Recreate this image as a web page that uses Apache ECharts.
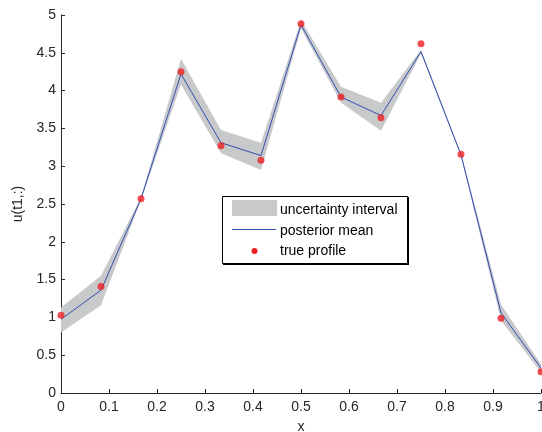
<!DOCTYPE html>
<html>
<head>
<meta charset="utf-8">
<script src="https://cdn.jsdelivr.net/npm/echarts@6/dist/echarts.min.js"></script>
<style>html,body{margin:0;padding:0;background:#fff;}#c{width:542px;height:432px;}</style>
</head>
<body>
<div id="c"></div>
<script>
var xs = [0, 1/12, 2/12, 3/12, 4/12, 5/12, 6/12, 7/12, 8/12, 9/12, 10/12, 11/12, 1];
var trueProfile = [1.03, 1.41, 2.57, 4.25, 3.27, 3.08, 4.885, 3.915, 3.64, 4.62, 3.157, 0.99, 0.28];
var posteriorMean = [0.975, 1.36, 2.57, 4.22, 3.31, 3.14, 4.87, 3.915, 3.67, 4.515, 3.15, 1.06, 0.33];
var upperBound = [1.13, 1.55, 2.59, 4.42, 3.48, 3.31, 4.93, 4.05, 3.84, 4.54, 3.17, 1.17, 0.38];
var lowerBound = [0.80, 1.16, 2.55, 4.08, 3.17, 2.95, 4.82, 3.84, 3.47, 4.49, 3.13, 0.96, 0.27];
var xTicks = ['0','0.1','0.2','0.3','0.4','0.5','0.6','0.7','0.8','0.9','1'];
var yTicks = ['0','0.5','1','1.5','2','2.5','3','3.5','4','4.5','5'];
var legendNames = ['uncertainty interval', 'posterior mean', 'true profile'];

var font = 'Liberation Sans, Arial, sans-serif';
var chart = echarts.init(document.getElementById('c'), null, {renderer: 'canvas'});
function pairs(ys) { return xs.map(function (x, i) { return [x, ys[i]]; }); }
var bandData = xs.map(function (x, i) { return [x, lowerBound[i], upperBound[i]]; });

var option = {
  animation: false,
  backgroundColor: '#fff',
  grid: {left: 61, top: 15, right: 1, bottom: 39, containLabel: false, outerBoundsMode: 'none'},
  xAxis: {
    type: 'value', min: 0, max: 1, interval: 0.1,
    name: 'x', nameLocation: 'middle', nameGap: 27,
    nameTextStyle: {color: '#262626', fontSize: 14, fontFamily: font},
    axisLine: {lineStyle: {color: '#262626', width: 1}},
    axisTick: {inside: true, length: 4, lineStyle: {color: '#262626'}},
    axisLabel: {margin: 7, color: '#262626', fontSize: 14, fontFamily: font,
      formatter: function (v) { return xTicks[Math.round(v * 10)]; }},
    splitLine: {show: false}
  },
  yAxis: {
    type: 'value', min: 0, max: 5, interval: 0.5,
    name: 'u(t1,:)', nameLocation: 'middle', nameGap: 34, nameRotate: 90,
    nameTextStyle: {color: '#262626', fontSize: 14, fontFamily: font},
    axisLine: {show: true, lineStyle: {color: '#262626', width: 1}},
    axisTick: {show: true, inside: true, length: 4, lineStyle: {color: '#262626'}},
    axisLabel: {margin: 5, color: '#262626', fontSize: 14, fontFamily: font,
      formatter: function (v) { return yTicks[Math.round(v * 2)]; }},
    splitLine: {show: false}
  },
  series: [
    {
      name: legendNames[0], type: 'custom', data: bandData, silent: true, z: 1,
      clip: true,
      encode: {x: 0, y: [1, 2]},
      renderItem: function (params, api) {
        if (params.dataIndex !== 0) return null;
        var pts = [];
        for (var i = 0; i < bandData.length; i++) pts.push(api.coord([bandData[i][0], bandData[i][2]]));
        for (var j = bandData.length - 1; j >= 0; j--) pts.push(api.coord([bandData[j][0], bandData[j][1]]));
        return {type: 'polygon', shape: {points: pts}, style: {fill: '#c8c9ca', stroke: null}};
      }
    },
    {
      name: legendNames[1], type: 'line', data: pairs(posteriorMean),
      symbol: 'none', lineStyle: {color: '#3050b0', width: 1}, z: 3
    },
    {
      name: legendNames[2], type: 'scatter', data: pairs(trueProfile),
      symbol: 'circle', symbolSize: 7, itemStyle: {color: '#ee2024'}, z: 4
    }
  ],
  graphic: [
    {type: 'rect', shape: {x: 222.5, y: 196.5, width: 185, height: 67},
      style: {fill: '#fff', stroke: '#000', lineWidth: 1}, z: 10},
    {type: 'line', shape: {x1: 408.5, y1: 197, x2: 408.5, y2: 264.5}, style: {stroke: '#000', lineWidth: 1}, z: 10},
    {type: 'line', shape: {x1: 223, y1: 264.5, x2: 409, y2: 264.5}, style: {stroke: '#000', lineWidth: 1}, z: 10},
    {type: 'rect', shape: {x: 232, y: 200, width: 45, height: 16}, style: {fill: '#c8c9ca'}, z: 11},
    {type: 'line', shape: {x1: 232, y1: 229.5, x2: 276, y2: 229.5}, style: {stroke: '#3050b0', lineWidth: 1}, z: 11},
    {type: 'circle', shape: {cx: 254.5, cy: 251, r: 3}, style: {fill: '#ee2024'}, z: 11},
    {type: 'text', x: 280, y: 210.5, style: {text: legendNames[0], fill: '#000', font: '14px ' + font, verticalAlign: 'middle'}, z: 11},
    {type: 'text', x: 280, y: 231.5, style: {text: legendNames[1], fill: '#000', font: '14px ' + font, verticalAlign: 'middle'}, z: 11},
    {type: 'text', x: 280, y: 251.5, style: {text: legendNames[2], fill: '#000', font: '14px ' + font, verticalAlign: 'middle'}, z: 11}
  ]
};
chart.setOption(option);
</script>
</body>
</html>
